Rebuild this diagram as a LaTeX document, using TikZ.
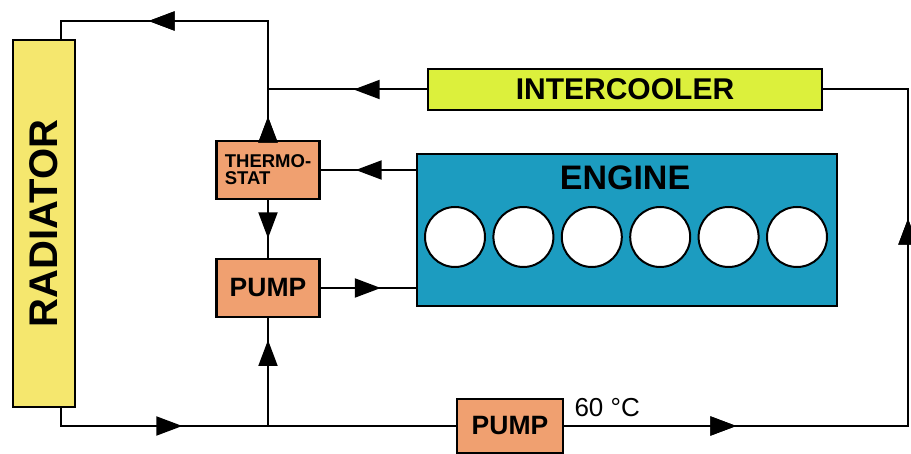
\documentclass[tikz,border=0pt]{standalone}
\usepackage{fontspec}
\setmainfont{Liberation Sans}
\usetikzlibrary{arrows.meta,decorations.markings}
\definecolor{radyellow}{HTML}{F5E76E}
\definecolor{pumporange}{HTML}{F0A070}
\definecolor{coolgreen}{HTML}{DCF03C}
\definecolor{engteal}{HTML}{1C9CC0}
\tikzset{
    box/.style={draw, line width=2.6pt, inner sep=0pt, font=\bfseries},
    pipe/.style={line width=2pt},
    flow/.style={postaction={decorate}, decoration={markings,
        mark=at position #1 with {\arrow{Triangle[length=26pt,width=19pt]}}}},
}
\begin{document}
\begin{tikzpicture}[x=1pt, y=-1pt]
    \useasboundingbox (0,0) rectangle (911,454);
    \node[box, fill=radyellow, minimum width=62, minimum height=367, font=\bfseries\fontsize{40}{40}\selectfont]
        (rad) at (44,223.5) {\rotatebox{90}{RADIATOR}};
    \node[box, fill=coolgreen, minimum width=394, minimum height=41, font=\bfseries\fontsize{30}{30}\selectfont]
        (inter) at (625,89.5) {INTERCOOLER};
    \node[box, fill=engteal, minimum width=420, minimum height=152] (engine) at (627,230) {};
    \node[font=\bfseries\fontsize{34}{34}\selectfont] (englbl) at (625,178) {ENGINE};
    \foreach \k in {0,...,5}
        \node[draw, line width=2pt, fill=white, circle, minimum size=60] (cyl\k) at (455+68.4*\k,237) {};
    \node[box, fill=pumporange, minimum width=103, minimum height=58, align=left, font=\bfseries\fontsize{18.5}{17}\selectfont]
        (thermo) at (268,170) {THERMO-\\STAT};
    \node[box, fill=pumporange, minimum width=103, minimum height=58, font=\bfseries\fontsize{26.5}{26.5}\selectfont]
        (pump) at (268,288) {PUMP};
    \node[box, fill=pumporange, minimum width=106, minimum height=54, font=\bfseries\fontsize{26.5}{26.5}\selectfont]
        (pumpb) at (510,426) {PUMP};
    \node[anchor=base west, font=\fontsize{26}{26}\selectfont] (temp) at (571,417) {60 °C};
    % coolant circuit
    \coordinate (radin) at ([xshift=17pt]rad.north);
    \coordinate (radout) at ([xshift=17pt]rad.south);
    \coordinate (top) at (268,21);
    \coordinate (split) at (268,426);
    \draw[pipe, flow=23pt, flow=238pt] (thermo.north) -- (top) -| (radin);
    \draw[pipe, flow=73pt] (inter.west) -- (inter.west -| thermo.north);
    \draw[pipe, flow=60pt] (engine.west |- thermo.east) -- (thermo.east);
    \draw[pipe, flow=38pt] (thermo.south) -- (pump.north);
    \draw[pipe, flow=60pt] (pump.east) -- (engine.west |- pump.east);
    \draw[pipe, flow=139pt] (radout) |- (split) -- (pumpb.west);
    \draw[pipe, flow=86pt] (split) -- (pump.south);
    \draw[pipe, flow=172pt, flow=551pt] (pumpb.east) -- (908,426) |- (inter.east);
\end{tikzpicture}
\end{document}
